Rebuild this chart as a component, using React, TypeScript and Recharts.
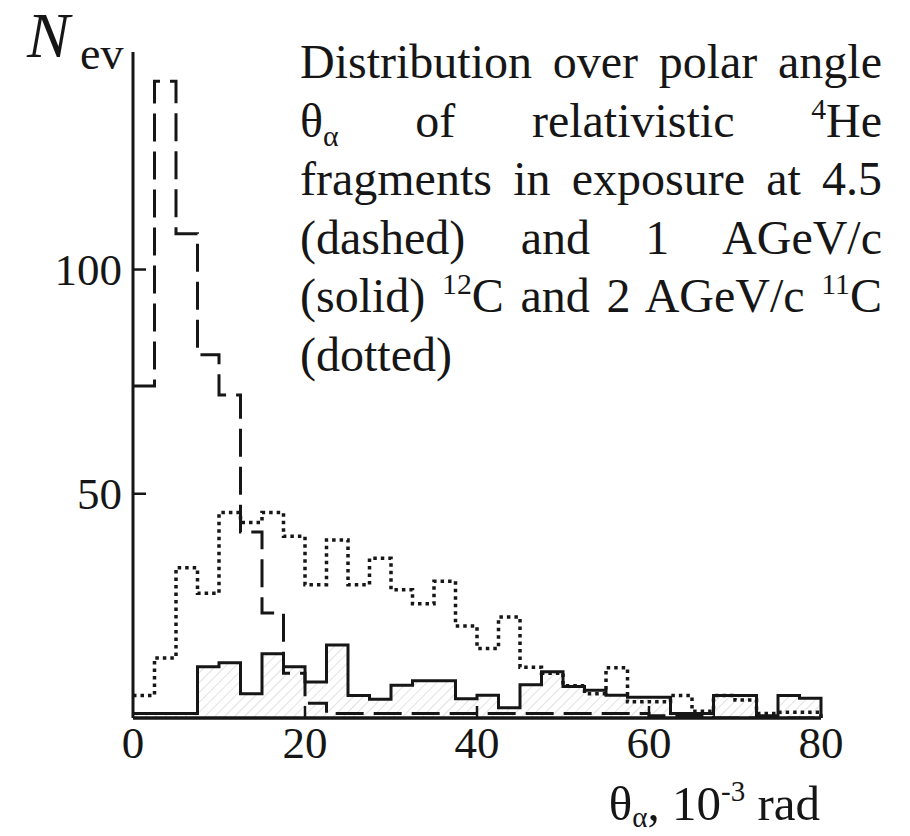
import { ComposedChart, Area, Line, XAxis, YAxis } from "recharts";

// bin edges of the histograms, 10^-3 rad
const binEdges = [
  0, 2.5, 5, 7.5, 10, 12.5, 15, 17.5, 20, 22.5, 25, 27.5, 30, 32.5, 35, 37.5,
  40, 42.5, 45, 47.5, 50, 52.5, 55, 57.5, 60, 62.5, 65, 67.5, 70, 72.5, 75, 77.5, 80,
];

// 4.5 AGeV/c 12C (dashed)
const dashed45 = [
  74, 142, 108, 81, 72, 41.5, 23.4, 10, 3.3, 1, 1, 1, 1, 1, 1, 1,
  1, 1, 1, 1, 1, 1, 1, 1, 0.5, 0.5, 0.5, 0, 0, 0, 0, 0,
];

// 1 AGeV/c 12C (solid, hatched)
const solid1 = [
  1, 1, 1, 11.4, 12.3, 5.4, 14.3, 11.4, 8, 16.3, 5, 4.2, 7.3, 8.3, 8.3, 4.3,
  5.1, 2.3, 7.4, 10.3, 7, 6.2, 5.1, 4.6, 4.6, 1, 1, 5, 5, 0.5, 5, 4.4,
];

// 2 AGeV/c 11C (dotted)
const dotted2 = [
  5, 13.4, 33.5, 27.8, 45.8, 43.6, 45.8, 40.5, 29.7, 39.7, 29.7, 35.6, 28.6, 25.5, 30.5, 20.5,
  15.5, 22.5, 11.3, 10, 7.2, 5.4, 11.2, 3.6, 3.6, 5, 1.5, 5, 4, 1, 1.3, 1.3,
];

const xTicks = [0, 20, 40, 60, 80];
const yTicks = [50, 100];

// one row per bin edge, the last one closes the step at 80
const data = binEdges.map((x, i) => ({
  x,
  dashed: i < dashed45.length ? dashed45[i] : 0,
  solid: i < solid1.length ? solid1[i] : 0,
  dotted: i < dotted2.length ? dotted2[i] : 0,
}));

const serif = "'Liberation Serif', 'Times New Roman', Times, serif";
const ink = "#161616";

function XTick({ x, y, payload }: any) {
  const v = payload.value;
  return (
    <g>
      {v > 0 && v < 80 && <line x1={x} x2={x} y1={y} y2={y - 12} stroke={ink} strokeWidth={2.5} />}
      <text x={x} y={y + 40} textAnchor="middle" fontFamily={serif} fontSize={45} fill={ink}>
        {v}
      </text>
    </g>
  );
}

function YTick({ x, y, payload }: any) {
  return (
    <g>
      <line x1={x} x2={x + 13} y1={y} y2={y} stroke={ink} strokeWidth={2.5} />
      <text x={x - 11} y={y + 15} textAnchor="end" fontFamily={serif} fontSize={45} fill={ink}>
        {payload.value}
      </text>
    </g>
  );
}

const lineStyle: React.CSSProperties = {
  height: 58.6,
  textAlign: "justify",
  textAlignLast: "justify",
  whiteSpace: "nowrap",
};

const sup: React.CSSProperties = { fontSize: "0.62em", verticalAlign: "0.62em", lineHeight: 0 };
const sub: React.CSSProperties = { fontSize: "0.62em", verticalAlign: "-0.3em", lineHeight: 0 };

export default function App() {
  return (
    <div style={{ position: "relative", width: 910, height: 836, margin: -8, background: "#fff" }}>
      <ComposedChart
        width={910}
        height={836}
        data={data}
        margin={{ top: 52, right: 89, bottom: 88, left: 73 }}
      >
        <defs>
          <pattern id="hatch" width="7" height="7" patternUnits="userSpaceOnUse" patternTransform="rotate(45)">
            <line x1="0" y1="0" x2="0" y2="7" stroke="#d0d0d0" strokeWidth="1.3" />
          </pattern>
        </defs>
        <XAxis
          dataKey="x"
          type="number"
          domain={[0, 80]}
          ticks={xTicks}
          height={30}
          tickSize={0}
          tickMargin={0}
          tickLine={false}
          axisLine={{ stroke: ink, strokeWidth: 3.5 }}
          tick={<XTick />}
          interval={0}
        />
        <YAxis
          type="number"
          domain={[0, 148.5]}
          ticks={yTicks}
          width={60}
          tickSize={0}
          tickMargin={0}
          tickLine={false}
          axisLine={{ stroke: ink, strokeWidth: 3 }}
          tick={<YTick />}
          allowDataOverflow
        />
        <Area
          type="stepAfter"
          dataKey="solid"
          stroke={ink}
          strokeWidth={3}
          fill="url(#hatch)"
          fillOpacity={1}
          dot={false}
          activeDot={false}
          isAnimationActive={false}
        />
        <Line
          type="stepAfter"
          dataKey="dotted"
          stroke={ink}
          strokeWidth={3.5}
          strokeDasharray="3.5 4"
          dot={false}
          activeDot={false}
          isAnimationActive={false}
        />
        <Line
          type="stepAfter"
          dataKey="dashed"
          stroke={ink}
          strokeWidth={3}
          strokeDasharray="28 10"
          dot={false}
          activeDot={false}
          isAnimationActive={false}
        />
      </ComposedChart>

      <svg width={910} height={836} style={{ position: "absolute", left: 0, top: 0, pointerEvents: "none" }}>
        <text x={27} y={57} fontFamily={serif} fontSize={64} fontStyle="italic" fill={ink}>
          N
        </text>
        <text x={80} y={69} fontFamily={serif} fontSize={46} fill={ink}>
          ev
        </text>
        <text x={820} y={820} textAnchor="end" fontFamily={serif} fontSize={49} fill={ink}>
          θ
          <tspan fontSize={29} dy={7}>α</tspan>
          <tspan dy={-7}>, 10</tspan>
          <tspan fontSize={29} dy={-19}>-3</tspan>
          <tspan dy={19}> rad</tspan>
        </text>
      </svg>

      <div
        style={{
          position: "absolute",
          left: 300,
          top: 33,
          width: 582,
          fontFamily: serif,
          fontSize: 48,
          lineHeight: "58.6px",
          color: ink,
        }}
      >
        <div style={lineStyle}>Distribution over polar angle</div>
        <div style={lineStyle}>
          θ<span style={sub}>α</span> of relativistic <span style={sup}>4</span>He
        </div>
        <div style={lineStyle}>fragments in exposure at 4.5</div>
        <div style={lineStyle}>(dashed) and 1 AGeV/c</div>
        <div style={lineStyle}>
          (solid) <span style={sup}>12</span>C and 2 AGeV/c <span style={sup}>11</span>C
        </div>
        <div style={{ height: 58.6 }}>(dotted)</div>
      </div>
    </div>
  );
}
